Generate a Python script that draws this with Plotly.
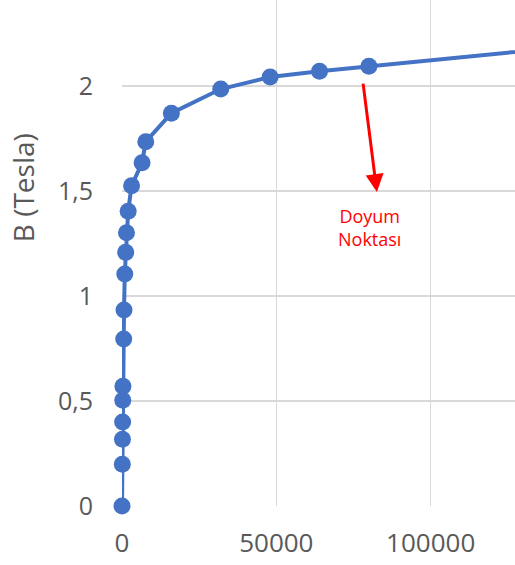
import plotly.graph_objects as go

# Data: H (A/m) vs B (Tesla)
H_values = [0, 100, 150, 200, 250, 300, 550, 650, 900, 1200, 1450, 2000, 3100,
            6500, 7700, 16000, 32000, 48000, 64000, 80000, 160000]
B_values = [0, 0.199, 0.318, 0.40, 0.504, 0.570, 0.795, 0.933, 1.105, 1.208, 1.301,
            1.404, 1.525, 1.635, 1.735, 1.871, 1.986, 2.043, 2.071, 2.095, 2.21]

x_tick_vals = [0, 50000, 100000]
x_tick_text = ["0", "50000", "100000"]
y_tick_vals = [0, 0.5, 1, 1.5, 2]
y_tick_text = ["0", "0,5", "1", "1,5", "2"]

y_title = "B (Tesla)"
note_text = "Doyum<br>Noktası"

BLUE = "#4472C4"
GRID = "#d9d9d9"
TICK = "#595959"
FONT = "Open Sans"

fig = go.Figure()
fig.add_trace(go.Scatter(
    x=H_values, y=B_values, mode="lines+markers",
    line=dict(color=BLUE, width=4),
    marker=dict(color=BLUE, size=17),
    showlegend=False, cliponaxis=False,
))

fig.update_layout(
    width=515, height=565,
    margin=dict(l=122, r=0, t=0, b=59),
    paper_bgcolor="white", plot_bgcolor="white",
    font=dict(family=FONT, color=TICK),
    hovermode=False,
    xaxis=dict(range=[0, 127330], tickvals=x_tick_vals, ticktext=x_tick_text,
               showgrid=True, gridcolor=GRID, gridwidth=1.5, zeroline=False,
               showline=False, tickfont=dict(size=26, color=TICK),
               ticklabelstandoff=19),
    yaxis=dict(range=[0, 2.41], tickvals=y_tick_vals, ticktext=y_tick_text,
               showgrid=True, gridcolor=GRID, gridwidth=1.5, zeroline=False,
               showline=False, tickfont=dict(size=25, color=TICK),
               ticklabelstandoff=28),
    annotations=[
        dict(text=y_title, xref="paper", yref="paper", x=-0.252, y=0.63,
             textangle=-90, showarrow=False, xanchor="center", yanchor="middle",
             font=dict(size=28, color=TICK, family=FONT)),
        dict(text="", x=82590, y=1.495, xref="x", yref="y",
             ax=-14, ay=-110, showarrow=True, arrowhead=2, arrowsize=1.2,
             arrowwidth=3, arrowcolor="#FF0000"),
        dict(text=note_text, x=80320, y=1.328, xref="x", yref="y",
             showarrow=False, xanchor="center", yanchor="middle",
             font=dict(size=18, color="#FF0000", family=FONT)),
    ],
)

fig.write_html("out.html",
               config={"displayModeBar": False, "staticPlot": True},
               post_script="document.body.style.margin='0px';document.body.style.overflow='hidden';")
